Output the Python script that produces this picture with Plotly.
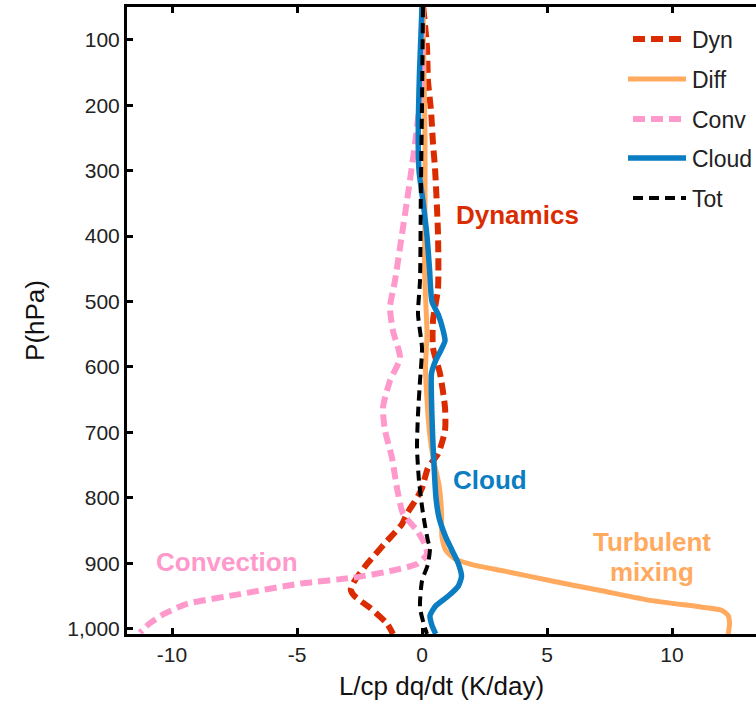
import plotly.graph_objects as go

# ---- data ----
names = ["Dyn", "Diff", "Conv", "Cloud", "Tot"]
colors = ["#DA2C00", "#FFAA5F", "#FF99CC", "#0A7DC3", "#000000"]
widths = [6, 5, 6, 5.5, 4]
dashes = ["12px,6px", "solid", "12px,6px", "solid", "10px,6px"]

dyn_p = [50, 112, 163, 208, 259, 296, 397, 480, 529, 571, 610, 662, 697, 733, 754, 785, 800, 824, 840, 866, 901, 927, 940, 950, 968, 992, 1008]
dyn_x = [0.05, 0.2, 0.24, 0.36, 0.44, 0.52, 0.64, 0.64, 0.44, 0.44, 0.72, 0.92, 0.92, 0.64, 0.24, 0.0, -0.2, -0.6, -0.8, -1.4, -2.2, -2.7, -2.85, -2.7, -2.08, -1.4, -1.16]

diff_p = [50, 150, 250, 350, 450, 500, 550, 600, 650, 700, 740, 780, 820, 860, 880, 893, 902, 912, 927, 942, 957, 967, 972, 980, 992, 1008]
diff_x = [0.04, 0.08, 0.12, 0.12, 0.1, 0.15, 0.2, 0.14, 0.2, 0.3, 0.45, 0.68, 0.78, 0.8, 0.95, 1.3, 2.0, 3.3, 5.2, 7.2, 9.2, 11.2, 12.0, 12.25, 12.3, 12.25]

conv_p = [50, 150, 200, 259, 346, 397, 468, 509, 545, 586, 621, 662, 697, 739, 785, 824, 850, 870, 886, 901, 911, 922, 931, 947, 962, 977, 992, 1006]
conv_x = [0.0, 0.0, -0.1, -0.28, -0.6, -0.8, -1.08, -1.28, -1.16, -0.88, -1.28, -1.56, -1.48, -1.2, -1.0, -0.76, -0.2, 0.1, 0.2, -0.2, -1.16, -2.76, -4.88, -7.28, -9.4, -10.3, -10.9, -11.28]

cloud_p = [50, 150, 250, 300, 350, 400, 450, 500, 520, 545, 560, 575, 590, 610, 650, 700, 750, 800, 830, 860, 880, 900, 920, 935, 950, 965, 980, 995, 1008]
cloud_x = [0.0, -0.1, -0.15, -0.12, 0.05, 0.2, 0.3, 0.4, 0.65, 0.85, 0.92, 0.75, 0.55, 0.38, 0.38, 0.42, 0.48, 0.56, 0.68, 0.95, 1.2, 1.45, 1.58, 1.45, 1.05, 0.55, 0.32, 0.4, 0.55]

tot_p = [50, 200, 350, 468, 519, 571, 621, 672, 723, 774, 824, 866, 876, 901, 927, 968, 999, 1008]
tot_x = [0.04, 0.0, -0.05, -0.08, -0.16, 0.0, -0.08, -0.16, -0.2, -0.12, 0.04, 0.24, 0.32, 0.24, 0.0, -0.08, 0.12, 0.2]

series_x = [dyn_x, diff_x, conv_x, cloud_x, tot_x]
series_p = [dyn_p, diff_p, conv_p, cloud_p, tot_p]

y_ticks = [100, 200, 300, 400, 500, 600, 700, 800, 900, 1000]
x_ticks = [-10, -5, 0, 5, 10]

labels = ["Dynamics", "Cloud", "Convection", "Turbulent", "mixing"]
label_x = [3.8, 2.72, -7.8, 9.2, 9.2]
label_p = [368, 773, 898, 867, 914]
label_colors = ["#DA2C00", "#0A7DC3", "#FF99CC", "#FFAA5F", "#FFAA5F"]

fig = go.Figure()
for n, c, w, d, xs, ps in zip(names, colors, widths, dashes, series_x, series_p):
    fig.add_trace(go.Scatter(x=xs, y=ps, mode="lines", name=n,
                             line=dict(color=c, width=w, dash=d, shape="spline", smoothing=0.6),
                             showlegend=False))

for t, lx, lp, lc in zip(labels, label_x, label_p, label_colors):
    fig.add_annotation(x=lx, y=lp, text="<b>%s</b>" % t, showarrow=False,
                       font=dict(family="Liberation Sans, Arial", size=26, color=lc))

# manual legend
L, R, T, B = 127, 756, 7, 634
def px2x(px):
    return (px - L) / (R - L)
def py2y(py):
    return 1 - (py - T) / (B - T)
leg_y = [39, 79, 119, 158, 198]
for i, (n, c, w, d) in enumerate(zip(names, colors, widths, dashes)):
    x0 = 633 if d != "solid" else 628
    fig.add_shape(type="line", xref="paper", yref="paper",
                  x0=px2x(x0), x1=px2x(686), y0=py2y(leg_y[i]), y1=py2y(leg_y[i]),
                  line=dict(color=c, width=w, dash=d))
    fig.add_annotation(xref="paper", yref="paper", x=px2x(690), y=py2y(leg_y[i] + 1),
                       text=n, showarrow=False, xanchor="left", yanchor="middle",
                       font=dict(family="Liberation Sans, Arial", size=23, color="#222"))

axis_font = dict(family="Liberation Sans, Arial", size=21, color="#222")
title_font = dict(family="Liberation Sans, Arial", size=26, color="#111")
fig.update_layout(
    width=756, height=710,
    margin=dict(l=L, r=0, t=T, b=710 - B),
    paper_bgcolor="white", plot_bgcolor="white",
    showlegend=False,
    xaxis=dict(range=[-11.8, 13.36], tickvals=x_ticks, ticktext=[str(v) if v >= 0 else "-" + str(-v) for v in x_ticks],
               ticks="inside", ticklen=6, tickwidth=3, tickcolor="black",
               showline=True, linewidth=3, linecolor="black", mirror="ticks",
               showgrid=False, zeroline=False, tickfont=axis_font,
               title=dict(text="L/cp dq/dt (K/day)", font=title_font, standoff=12)),
    yaxis=dict(range=[1008, 50], tickvals=y_ticks, tickformat=",d",
               ticks="inside", ticklen=6, tickwidth=3, tickcolor="black",
               showline=True, linewidth=3, linecolor="black", mirror=False,
               showgrid=False, zeroline=False, tickfont=axis_font,
               title=dict(text="P(hPa)", font=title_font, standoff=16)),
)

fig.write_html("out.html")
